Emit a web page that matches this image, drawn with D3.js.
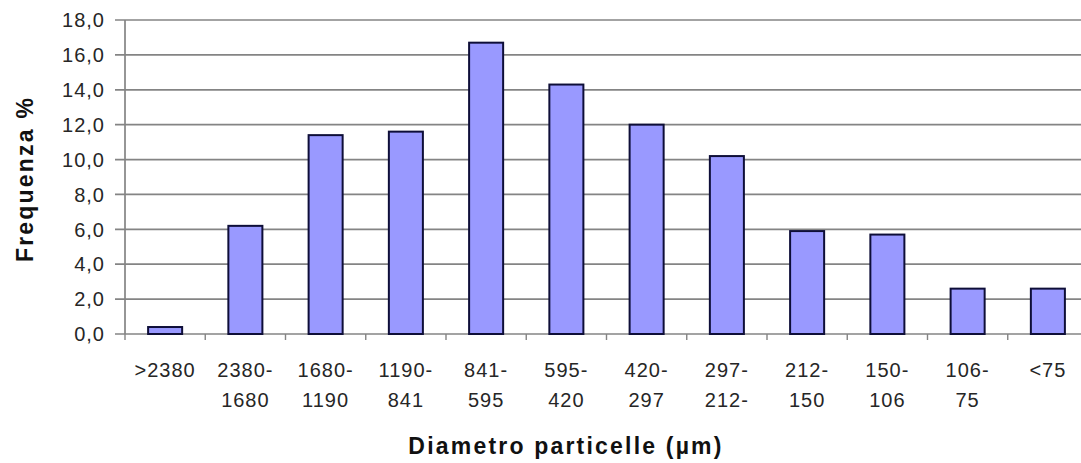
<!DOCTYPE html>
<html>
<head>
<meta charset="utf-8">
<script src="https://cdn.jsdelivr.net/npm/d3@7"></script>
<style>
  html, body { margin: 0; padding: 0; background: #fff; }
  svg { display: block; }
</style>
</head>
<body>
<svg id="chart" width="1081" height="463"></svg>
<script>
const categories = [">2380", "2380-1680", "1680-1190", "1190-841", "841-595", "595-420", "420-297", "297-212-", "212-150", "150-106", "106-75", "<75"];
const labelLines = [[">2380"], ["2380-", "1680"], ["1680-", "1190"], ["1190-", "841"], ["841-", "595"], ["595-", "420"], ["420-", "297"], ["297-", "212-"], ["212-", "150"], ["150-", "106"], ["106-", "75"], ["<75"]];
const frequency = [0.4, 6.2, 11.4, 11.6, 16.7, 14.3, 12.0, 10.2, 5.9, 5.7, 2.6, 2.6];
const yTicks = [0, 2, 4, 6, 8, 10, 12, 14, 16, 18];
const xTitle = "Diametro particelle (µm)";
const yTitle = "Frequenza %";

(function () {
const svg = d3.select("#chart");
const pLeft = 125, pRight = 1088, pTop = 20, pBottom = 334;
const font = "Liberation Sans, Arial, sans-serif";

const x = d3.scaleBand().domain(categories).range([pLeft, pRight]).paddingInner(0.576).paddingOuter(0.288);
const y = d3.scaleLinear().domain([0, 18]).range([pBottom, pTop]);
const step = x.step();

// gridlines
svg.append("g").selectAll("line").data(yTicks).join("line")
  .attr("x1", pLeft - 10).attr("x2", 1081)
  .attr("y1", d => y(d)).attr("y2", d => y(d))
  .attr("stroke", "#848484").attr("stroke-width", 1.7);

// y tick labels
svg.append("g").selectAll("text").data(yTicks).join("text")
  .attr("x", 105).attr("y", d => y(d)).attr("dy", "0.36em")
  .attr("text-anchor", "end")
  .style("font-family", font)
  .style("font-size", "20px").style("letter-spacing", "1px")
  .attr("fill", "#262626")
  .text(d => d3.format(".1f")(d).replace(".", ","));

// bars
svg.append("g").selectAll("rect").data(frequency).join("rect")
  .attr("x", (d, i) => x(categories[i]))
  .attr("width", x.bandwidth())
  .attr("y", d => y(d))
  .attr("height", d => y(0) - y(d))
  .attr("fill", "#9999ff").attr("stroke", "#0e0e38").attr("stroke-width", 2);

// y axis line
svg.append("line").attr("x1", pLeft).attr("x2", pLeft).attr("y1", pTop).attr("y2", pBottom)
  .attr("stroke", "#848484").attr("stroke-width", 1.7);

// x tick marks at category boundaries
const bounds = d3.range(categories.length + 1).map(i => pLeft + i * step);
svg.append("g").selectAll("line").data(bounds).join("line")
  .attr("x1", d => d).attr("x2", d => d).attr("y1", pBottom).attr("y2", pBottom + 6)
  .attr("stroke", "#848484").attr("stroke-width", 1.4);

// x labels
const xl = svg.append("g").selectAll("text").data(categories).join("text")
  .attr("text-anchor", "middle")
  .style("font-family", font)
  .style("font-size", "20px").style("letter-spacing", "1px")
  .attr("fill", "#262626");
xl.each(function(d, i) {
  const t = d3.select(this);
  labelLines[i].forEach((line, j) => {
    t.append("tspan").attr("x", x(d) + x.bandwidth() / 2).attr("y", 377 + j * 30).text(line);
  });
});

// axis titles
svg.append("text").attr("x", 566).attr("y", 454).attr("text-anchor", "middle")
  .style("font-family", font)
  .style("font-size", "23px").style("font-weight", "bold").style("letter-spacing", "2.2px")
  .attr("fill", "#111").text(xTitle);

svg.append("text").attr("transform", "translate(33,179) rotate(-90)").attr("text-anchor", "middle")
  .style("font-family", font)
  .style("font-size", "23px").style("font-weight", "bold").style("letter-spacing", "2.2px")
  .attr("fill", "#111").text(yTitle);
})();
</script>
</body>
</html>
